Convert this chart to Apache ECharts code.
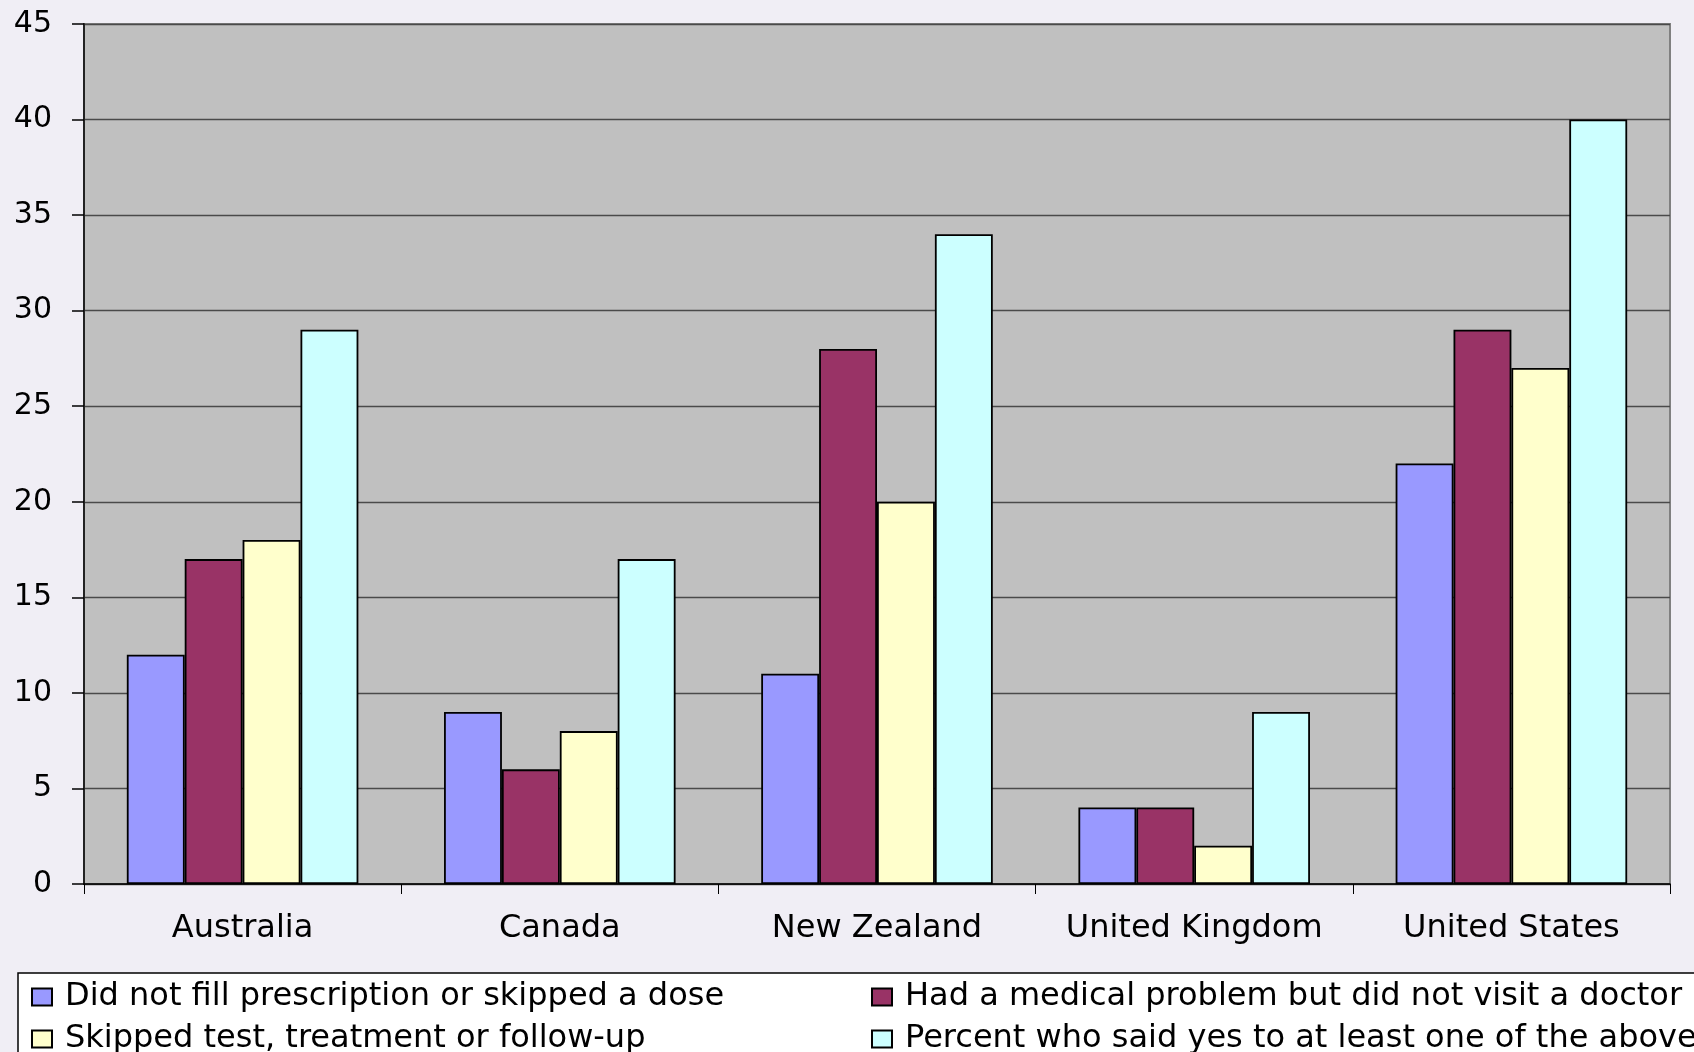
<!DOCTYPE html>
<html>
<head>
<meta charset="utf-8">
<script src="https://cdn.jsdelivr.net/npm/echarts@6/dist/echarts.min.js"></script>
<style>
  html, body { margin: 0; padding: 0; background: #f0eef5; }
  #chart { width: 1694px; height: 1052px; }
</style>
</head>
<body>
<div id="chart"></div>
<script>
// Countries on the category axis
const countries = ['Australia', 'Canada', 'New Zealand', 'United Kingdom', 'United States'];

// Series names (legend entries)
const seriesNames = [
  'Did not fill prescription or skipped a dose',
  'Had a medical problem but did not visit a doctor',
  'Skipped test, treatment or follow-up',
  'Percent who said yes to at least one of the above'
];

// Percent of respondents, per country
const skippedDose = [12, 9, 11, 4, 22];
const noDoctorVisit = [17, 6, 28, 4, 29];
const skippedTest = [18, 8, 20, 2, 27];
const anyOfAbove = [29, 17, 34, 9, 40];

// Value axis ticks
const yTicks = [0, 5, 10, 15, 20, 25, 30, 35, 40, 45];

const colors = ['#9999ff', '#993366', '#ffffcc', '#ccffff'];
const valueSets = [skippedDose, noDoctorVisit, skippedTest, anyOfAbove];

const FONT = 'DejaVu Sans';

const chart = echarts.init(document.getElementById('chart'), null, { renderer: 'canvas' });

const series = valueSets.map((vals, i) => ({
  name: seriesNames[i],
  type: 'bar',
  data: vals,
  barGap: '0%',
  barCategoryGap: '27%',
  itemStyle: { color: colors[i], borderColor: '#000', borderWidth: 1.8 },
  emphasis: { disabled: true }
}));

const legendText = {
  fontFamily: FONT, fontSize: 32, color: '#000', lineHeight: 30,
  padding: [0, 0, 0, 8]
};

// Two-column legend: each column is its own vertical legend
function legendColumn(names, left) {
  return {
    data: names,
    orient: 'vertical',
    left: left, top: 981,
    width: 820, height: 120,
    padding: 0,
    itemWidth: 20, itemHeight: 17,
    itemGap: 10,
    icon: 'rect',
    selectedMode: false,
    textStyle: legendText
  };
}

chart.setOption({
  backgroundColor: '#f0eef5',
  animation: false,
  grid: {
    left: 84, right: 24, top: 24, bottom: 168,
    show: true,
    backgroundColor: '#c0c0c0',
    borderColor: '#808080',
    borderWidth: 2
  },
  graphic: [{
    type: 'rect',
    z: -1,
    shape: { x: 18, y: 973, width: 1700, height: 120 },
    style: { fill: '#ffffff', stroke: '#000', lineWidth: 1.5 }
  }],
  legend: [
    legendColumn([seriesNames[0], seriesNames[2]], 31),
    legendColumn([seriesNames[1], seriesNames[3]], 871)
  ],
  xAxis: {
    type: 'category',
    data: countries,
    axisLine: { show: true, lineStyle: { color: '#000', width: 1.5 } },
    axisTick: { show: true, length: 10, interval: 0, lineStyle: { color: '#000', width: 1 } },
    axisLabel: { interval: 0, margin: 29, fontFamily: FONT, fontSize: 32, color: '#000' },
    splitLine: { show: false }
  },
  yAxis: {
    type: 'value',
    min: yTicks[0],
    max: yTicks[yTicks.length - 1],
    interval: yTicks[1] - yTicks[0],
    axisLine: { show: true, lineStyle: { color: '#222', width: 2 } },
    axisTick: { show: true, length: 12, lineStyle: { color: '#000', width: 1.5 } },
    axisLabel: { margin: 32, fontFamily: FONT, fontSize: 30, color: '#000' },
    splitLine: { show: true, lineStyle: { color: '#4a4a4a', width: 1.3 } }
  },
  series: series
});
</script>
</body>
</html>
